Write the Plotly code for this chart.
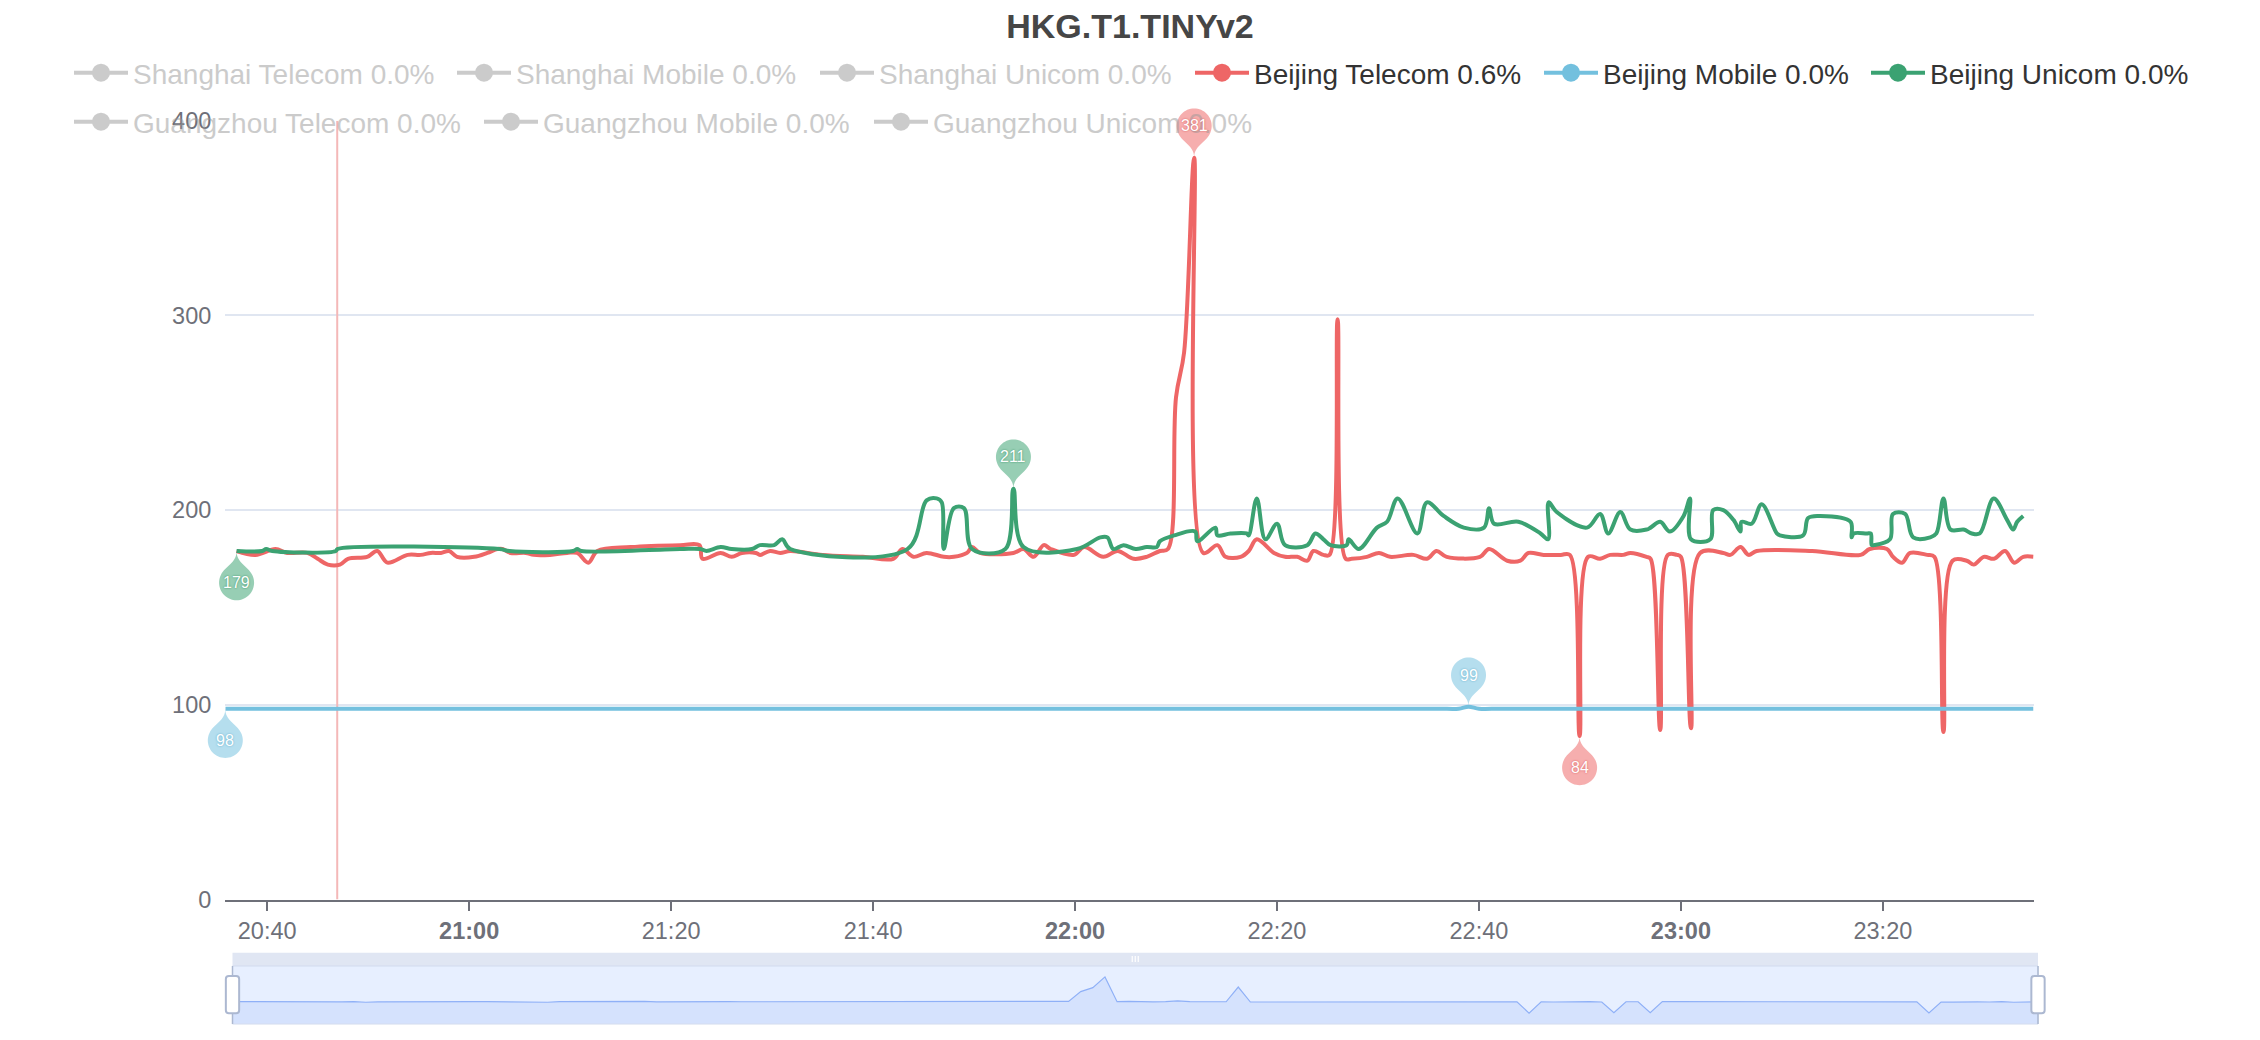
import math
from datetime import datetime, timedelta
import plotly.graph_objects as go

# ---------------- data ----------------
DAY = "2024-05-01"
chart_title = "HKG.T1.TINYv2"

series_names = ["Shanghai Telecom", "Shanghai Mobile", "Shanghai Unicom",
                "Beijing Telecom", "Beijing Mobile", "Beijing Unicom",
                "Guangzhou Telecom", "Guangzhou Mobile", "Guangzhou Unicom"]
series_loss = [0.0, 0.0, 0.0, 0.6, 0.0, 0.0, 0.0, 0.0, 0.0]
series_active = [False, False, False, True, True, True, False, False, False]
series_colors = ["#5470c6", "#91cc75", "#fac858", "#ee6666", "#73c0de",
                 "#3ba272", "#fc8452", "#9a60b4", "#ea7ccc"]

bj_telecom_times = [
    "20:36:58", "20:38:50", "20:40:49", "20:41:59", "20:43:58", "20:45:00", "20:46:00", "20:47:12",
    "20:48:00", "20:49:54", "20:50:54", "20:51:54", "20:53:54", "20:55:12", "20:56:12", "20:57:12",
    "20:58:00", "20:58:48", "21:00:30", "21:01:48", "21:02:48", "21:03:18", "21:04:06", "21:05:36",
    "21:06:24", "21:08:00", "21:09:42", "21:10:42", "21:11:48", "21:12:42", "21:16:00", "21:20:54",
    "21:22:48", "21:23:06", "21:24:54", "21:26:00", "21:27:00", "21:28:24", "21:28:48", "21:29:48",
    "21:30:48", "21:31:48", "21:35:00", "21:39:00", "21:42:00", "21:42:54", "21:44:00", "21:45:18",
    "21:47:00", "21:48:00", "21:49:18", "21:49:48", "21:50:36", "21:53:54", "21:54:54", "21:55:54",
    "21:56:54", "21:57:36", "21:59:54", "22:00:54", "22:02:48", "22:04:12", "22:05:48", "22:07:06",
    "22:08:24", "22:09:12", "22:10:00", "22:10:48", "22:11:48", "22:12:42", "22:14:06", "22:14:54",
    "22:16:24", "22:17:12", "22:18:00", "22:19:42", "22:20:48", "22:22:00", "22:23:00", "22:23:36",
    "22:24:36", "22:25:12", "22:26:00", "22:26:48", "22:27:24", "22:28:54", "22:30:06", "22:31:12",
    "22:33:30", "22:34:51", "22:35:48", "22:36:48", "22:40:06", "22:41:00", "22:42:48", "22:44:06",
    "22:44:54", "22:46:24", "22:48:06", "22:49:00", "22:49:58", "22:50:48", "22:52:00", "22:53:00",
    "22:54:18", "22:55:00", "22:56:36", "22:57:00", "22:57:57", "22:58:42", "22:59:36", "23:00:00",
    "23:01:00", "23:01:54", "23:04:12", "23:04:54", "23:05:54", "23:06:42", "23:07:30", "23:13:00",
    "23:17:48", "23:18:42", "23:20:24", "23:21:00", "23:21:54", "23:22:42", "23:24:24", "23:25:06",
    "23:26:00", "23:26:54", "23:28:18", "23:29:00", "23:30:00", "23:31:00", "23:32:06", "23:33:00",
    "23:33:54", "23:34:55"]
bj_telecom_ms = [
    179, 177, 180, 178, 178, 175, 172, 172,
    175, 176, 179, 173, 177, 177, 178, 178,
    179, 176, 176, 178, 180, 180, 178, 178,
    177, 177, 178, 178, 173, 179, 181, 182,
    182, 175, 178, 176, 178, 178, 177, 179,
    178, 179, 177, 176, 175, 180, 176, 178,
    176, 176, 178, 181, 178, 178, 180, 176,
    182, 180, 177, 181, 176, 179, 175, 176,
    179, 180, 258, 281, 381, 178, 182, 176,
    176, 179, 185, 178, 176, 176, 174, 179,
    177, 177, 298, 175, 175, 176, 178, 176,
    177, 175, 179, 176, 176, 180, 174, 174,
    178, 177, 177, 177, 84, 176, 175, 177,
    177, 178, 176, 175, 87, 177, 177, 176,
    88, 178, 178, 177, 181, 177, 179, 179,
    177, 180, 180, 176, 173, 178, 177, 176,
    86, 174, 174, 172, 176, 175, 179, 173,
    176, 176]

bj_unicom_times = [
    "20:36:58", "20:39:30", "20:39:54", "20:40:30", "20:46:48", "20:46:57", "21:03:00", "21:04:00",
    "21:10:18", "21:10:42", "21:11:06", "21:20:54", "21:22:54", "21:23:30", "21:24:54", "21:26:00",
    "21:28:00", "21:28:48", "21:30:12", "21:31:00", "21:31:48", "21:43:24", "21:45:18", "21:46:18",
    "21:46:48", "21:47:00", "21:48:00", "21:49:00", "21:49:48", "21:53:06", "21:53:54", "21:54:54",
    "22:00:12", "22:02:30", "22:03:12", "22:03:48", "22:04:48", "22:06:00", "22:07:06", "22:08:06",
    "22:08:24", "22:09:48", "22:11:54", "22:12:06", "22:13:54", "22:14:06", "22:15:24", "22:17:00",
    "22:17:12", "22:18:00", "22:18:51", "22:20:00", "22:20:48", "22:23:00", "22:23:48", "22:24:36",
    "22:25:18", "22:26:54", "22:27:06", "22:28:06", "22:29:54", "22:30:54", "22:31:57", "22:33:54",
    "22:34:51", "22:36:30", "22:38:30", "22:40:30", "22:41:00", "22:41:30", "22:43:54", "22:46:06",
    "22:46:51", "22:46:54", "22:47:42", "22:50:42", "22:52:00", "22:52:48", "22:54:00", "22:55:00",
    "22:56:36", "22:57:00", "22:57:57", "22:58:54", "23:00:16", "23:00:54", "23:01:00", "23:02:54",
    "23:03:12", "23:04:12", "23:05:12", "23:05:54", "23:06:00", "23:07:00", "23:08:00", "23:09:30",
    "23:09:48", "23:12:06", "23:12:36", "23:13:48", "23:16:48", "23:16:54", "23:17:06", "23:18:24",
    "23:18:48", "23:18:54", "23:19:06", "23:20:42", "23:21:00", "23:22:12", "23:23:00", "23:24:42",
    "23:25:18", "23:26:00", "23:26:42", "23:28:00", "23:28:48", "23:29:36", "23:30:58", "23:32:18",
    "23:32:54", "23:33:18", "23:33:54"]
bj_unicom_ms = [
    179, 179, 180, 179, 179, 180, 180, 179,
    179, 180, 179, 180, 180, 179, 181, 180,
    180, 182, 182, 185, 180, 180, 205, 206,
    204, 180, 201, 201, 180, 180, 211, 181,
    180, 186, 186, 180, 182, 180, 181, 181,
    184, 187, 189, 184, 191, 187, 188, 188,
    187, 206, 185, 193, 182, 182, 188, 185,
    182, 182, 185, 180, 191, 194, 206, 188,
    204, 197, 191, 191, 201, 193, 194, 188,
    185, 204, 199, 191, 198, 188, 199, 190,
    190, 191, 194, 189, 197, 206, 185, 185,
    200, 200, 195, 189, 194, 193, 203, 188,
    187, 187, 196, 197, 194, 186, 188, 188,
    188, 182, 182, 185, 198, 198, 186, 186,
    188, 206, 190, 190, 188, 188, 206, 195,
    190, 194, 197]

bj_mobile_times = ["20:35:51", "20:50:00", "21:10:00", "21:30:00", "21:50:00", "22:10:00", "22:30:00",
                   "22:36:00", "22:38:00", "22:38:58", "22:40:00", "22:42:00", "22:45:00", "22:50:00",
                   "23:00:00", "23:10:00", "23:20:00", "23:34:55"]
bj_mobile_ms = [98, 98, 98, 98, 98, 98, 98, 98, 98, 99, 98, 98, 98, 98, 98, 98, 98, 98]

# data shadow of the zoom slider (evenly spaced by sample index, as ECharts draws it)
slider_shadow_ms = [
    179, 178, 178, 180, 178, 178, 175, 172, 174, 176,
    178, 173, 176, 177, 178, 178, 177, 176, 177, 180,
    179, 178, 177, 177, 177, 178, 173, 179, 180, 180,
    181, 181, 181, 181, 181, 176, 177, 177, 178, 178,
    178, 178, 177, 177, 176, 176, 176, 175, 175, 179,
    175, 178, 176, 176, 179, 178, 178, 178, 180, 178,
    180, 178, 178, 179, 176, 179, 175, 176, 179,
    180, 260, 293, 381, 178,
    181, 176, 176, 178, 184, 178, 176, 174, 177, 298, 175,
    175, 175, 178, 176, 176, 177, 176, 175, 179, 175,
    176, 176, 176, 179, 177, 174, 174, 178, 177, 177,
    177, 177, 84, 176,
    175, 177, 177, 178, 175, 87, 177, 177, 88, 178,
    178, 178, 178, 179, 179, 179, 179, 179, 179, 179,
    179, 178, 178, 177, 179, 180, 179, 174, 178, 177,
    176, 86, 174,
    174, 172, 176, 175, 179, 173, 176, 176]

x_tick_times = ["20:40", "21:00", "21:20", "21:40", "22:00", "22:20", "22:40", "23:00", "23:20"]
x_tick_bold = [False, True, False, False, True, False, False, True, False]
y_tick_vals = [0, 100, 200, 300, 400]
marker_time = "20:46:56"

# ---------------- geometry / style ----------------
# the page body has an 8px margin, so the figure is drawn 8px right/down of the window origin
OFF = 8
W, H = 2260 - 2 * OFF, 1040 - 2 * OFF
PA_L, PA_R, PA_T, PA_B = 150, 2110, 80, 1024          # plot-area box, window pixels
L, R, T, B = PA_L - OFF, W - (PA_R - OFF), PA_T - OFF, H - (PA_B - OFF)
PW, PH = W - L - R, H - T - B
FONT = "Liberation Sans, Arial, Helvetica, sans-serif"

GRID_L, GRID_R, GRID_T, GRID_B = 225.3, 2033.5, 120.7, 899.5
SL_L, SL_R = 232.5, 2038.0
SL_BAND_T, SL_T, SL_B = 952.7, 966.0, 1024.0

legend_line_px = [74, 457, 820, 1195, 1544, 1871, 74, 484, 874]
legend_row_py = [73, 73, 73, 73, 73, 73, 122, 122, 122]


def fx(px):
    return (px - PA_L) / PW


def fy(py):
    return (PA_B - py) / PH


def ts(hms):
    if len(hms) == 5:
        hms += ":00"
    return f"{DAY} {hms}"


def to_dt(hms):
    return datetime.strptime(ts(hms), "%Y-%m-%d %H:%M:%S")


def legend_id(i):
    return "legend" if i == 0 else f"legend{i + 1}"


def rgba(hex_color, a):
    h = hex_color.lstrip("#")
    r, g, b = int(h[0:2], 16), int(h[2:4], 16), int(h[4:6], 16)
    return f"rgba({r},{g},{b},{a})"


fig = go.Figure()

# hidden (inactive) series: legend entries only
for i, name in enumerate(series_names):
    if not series_active[i]:
        fig.add_trace(go.Scatter(
            x=[None], y=[None], name=f"{name} {series_loss[i]:.1f}%", mode="lines+markers",
            line=dict(color="#999999", width=4),
            marker=dict(color="#999999", size=16, line=dict(color="#999999", width=2)),
            visible="legendonly", legend=legend_id(i), legendgroup=name))

active_data = {
    "Beijing Telecom": (bj_telecom_times, bj_telecom_ms),
    "Beijing Mobile": (bj_mobile_times, bj_mobile_ms),
    "Beijing Unicom": (bj_unicom_times, bj_unicom_ms),
}

for i, name in enumerate(series_names):
    if series_active[i]:
        times, vals = active_data[name]
        fig.add_trace(go.Scatter(
            x=[ts(t) for t in times], y=vals, mode="lines", name=name,
            line=dict(color=series_colors[i], width=4, shape="spline", smoothing=1),
            showlegend=False, legendgroup=name, hoverinfo="x+y"))

for i, name in enumerate(series_names):
    if series_active[i]:
        fig.add_trace(go.Scatter(
            x=[None], y=[None], mode="lines+markers", name=f"{name} {series_loss[i]:.1f}%",
            line=dict(color=series_colors[i], width=4),
            marker=dict(color=series_colors[i], size=16, line=dict(color=series_colors[i], width=2)),
            legend=legend_id(i), legendgroup=name))

# slider data shadow
n_sh = len(slider_shadow_ms)
fig.add_trace(go.Scatter(
    x=list(range(n_sh)), y=slider_shadow_ms, xaxis="x2", yaxis="y2", mode="lines",
    line=dict(color="#8FB0F7", width=1.2), fill="tozeroy",
    fillcolor="rgba(143,176,247,0.2)", showlegend=False, hoverinfo="skip"))

# overlay axes for the pins (same scale as the main axes, larger unclipped area)
fig.add_trace(go.Scatter(x=[], y=[], xaxis="x3", yaxis="y3", showlegend=False, hoverinfo="skip"))

all_times = bj_telecom_times + bj_unicom_times + bj_mobile_times
t0 = min(to_dt(t) for t in all_times)
t1 = max(to_dt(t) for t in all_times)
span = (t1 - t0).total_seconds()
sx = (GRID_R - GRID_L) / span
x3_range = [(t0 - timedelta(seconds=(GRID_L - PA_L) / sx)).strftime("%Y-%m-%d %H:%M:%S.%f"),
            (t1 + timedelta(seconds=(PA_R - GRID_R) / sx)).strftime("%Y-%m-%d %H:%M:%S.%f")]
y_max = max(y_tick_vals)
sy = (GRID_B - GRID_T) / y_max
y3_range = [0 - (PA_B - GRID_B) / sy, y_max + (GRID_T - PA_T) / sy]

# ---------------- pins (markPoint max / min) ----------------
PIN_R, PIN_H = 17.5, 57.0
pin_dy = PIN_R * PIN_R / (PIN_H - PIN_R)
PIN_D = PIN_H - PIN_R - pin_dy


def pin_path(sign):
    r = PIN_R
    a = math.asin(pin_dy / r)
    dx = math.cos(a) * r
    tx, ty = math.sin(a), math.cos(a)
    c1, c2 = 0.6 * r, 0.7 * r
    pts = []
    n = 40
    for k in range(n + 1):
        th = math.pi + a - (math.pi + 2 * a) * k / n
        pts.append((r * math.cos(th), PIN_D + r * math.sin(th)))
    s = sign
    p = "M{:.2f},{:.2f}".format(pts[0][0], s * pts[0][1])
    for (x, y) in pts[1:]:
        p += " L{:.2f},{:.2f}".format(x, s * y)
    base = PIN_D - pin_dy
    p += " C{:.2f},{:.2f} {:.2f},{:.2f} 0,0".format(dx - tx * c1, s * (base - ty * c1), 0, s * c2)
    p += " C{:.2f},{:.2f} {:.2f},{:.2f} {:.2f},{:.2f} Z".format(
        0, s * c2, -dx + tx * c1, s * (base - ty * c1), -dx, s * base)
    return p


shapes = []
annotations = []

# slider frame
shapes.append(dict(type="rect", xref="paper", yref="paper", x0=fx(SL_L), x1=fx(SL_R),
                   y0=fy(SL_T), y1=fy(SL_BAND_T), fillcolor="#E0E6F3", line=dict(width=0), layer="below"))
shapes.append(dict(type="rect", xref="paper", yref="paper", x0=fx(SL_L), x1=fx(SL_R),
                   y0=fy(SL_B), y1=fy(SL_T), fillcolor="#E7EFFF",
                   line=dict(color="#D2DBEE", width=1), layer="below"))
mid = (SL_L + SL_R) / 2
for off in (-3, 0, 3):
    shapes.append(dict(type="line", xref="paper", yref="paper", x0=fx(mid + off), x1=fx(mid + off),
                       y0=fy(962), y1=fy(956), line=dict(color="#FFFFFF", width=1.2), layer="above"))


def rounded_rect(cx, cy, w, h, r):
    x0, x1, y0, y1 = cx - w / 2, cx + w / 2, cy - h / 2, cy + h / 2
    P = lambda x, y: "{:.6f},{:.6f}".format(fx(x), fy(y))
    return ("M" + P(x0 + r, y0) + " L" + P(x1 - r, y0) + " Q" + P(x1, y0) + " " + P(x1, y0 + r) +
            " L" + P(x1, y1 - r) + " Q" + P(x1, y1) + " " + P(x1 - r, y1) +
            " L" + P(x0 + r, y1) + " Q" + P(x0, y1) + " " + P(x0, y1 - r) +
            " L" + P(x0, y0 + r) + " Q" + P(x0, y0) + " " + P(x0 + r, y0) + " Z")


for hx in (SL_L, SL_R):
    shapes.append(dict(type="line", xref="paper", yref="paper", x0=fx(hx), x1=fx(hx),
                       y0=fy(SL_B), y1=fy(SL_T), line=dict(color="#ACB8D1", width=1.5), layer="above"))
    shapes.append(dict(type="path", xref="paper", yref="paper", path=rounded_rect(hx, 994.7, 13.3, 37.3, 3),
                       fillcolor="#FFFFFF", line=dict(color="#ACB8D1", width=2), layer="above"))

# event marker line
shapes.append(dict(type="line", xref="x", yref="y", x0=ts(marker_time), x1=ts(marker_time),
                   y0=0, y1=y_max, line=dict(color="#F4B8B8", width=2), layer="between"))

label_shadow = {"#ee6666": "#d65252", "#73c0de": "#5aa9c8", "#3ba272": "#2e8a5e"}
for i, name in enumerate(series_names):
    if not series_active[i]:
        continue
    times, vals = active_data[name]
    color = series_colors[i]
    i_max = vals.index(max(vals))
    i_min = vals.index(min(vals))
    for idx, sign in ((i_max, 1), (i_min, -1)):
        shapes.append(dict(type="path", xref="x3", yref="y3", xsizemode="pixel", ysizemode="pixel",
                           xanchor=ts(times[idx]), yanchor=vals[idx], path=pin_path(sign),
                           fillcolor=rgba(color, 0.53), line=dict(width=0), layer="above"))
        annotations.append(dict(x=ts(times[idx]), y=vals[idx], xref="x3", yref="y3",
                                text=str(vals[idx]), showarrow=False, yshift=sign * PIN_D,
                                xanchor="center", yanchor="middle",
                                font=dict(family=FONT, size=16, color="#FFFFFF",
                                          shadow=f"0px 0px 2px {label_shadow[color]}")))

layout = dict(
    width=W, height=H,
    margin=dict(l=L, r=R, t=T, b=B, autoexpand=False),
    paper_bgcolor="#FFFFFF", plot_bgcolor="rgba(0,0,0,0)",
    title=dict(text=chart_title, x=0.5, xref="container", xanchor="center",
               y=1.0 - 6.0 / H, yref="container", yanchor="top", pad=dict(t=0, b=0, l=0, r=0),
               font=dict(family=FONT, size=34, color="#464646", weight="bold")),
    xaxis=dict(type="date", domain=[fx(GRID_L), fx(GRID_R)], anchor="y",
               range=[t0.strftime("%Y-%m-%d %H:%M:%S"), t1.strftime("%Y-%m-%d %H:%M:%S")],
               tickvals=[ts(t) for t in x_tick_times],
               ticktext=[f"<b>{t}</b>" if b else t for t, b in zip(x_tick_times, x_tick_bold)],
               tickfont=dict(family=FONT, size=23.5, color="#6E7079"),
               showline=True, linecolor="#6E7079", linewidth=2,
               ticks="outside", ticklen=9, tickwidth=2, tickcolor="#6E7079",
               ticklabelstandoff=0, showgrid=False, zeroline=False, fixedrange=True),
    yaxis=dict(domain=[fy(GRID_B), fy(GRID_T)], anchor="x", range=[0, y_max],
               tickvals=y_tick_vals, tickfont=dict(family=FONT, size=23.5, color="#6E7079"),
               showgrid=True, gridcolor="#E0E6F1", gridwidth=2, zeroline=False,
               showline=False, ticks="", ticklabelstandoff=13, fixedrange=True),
    xaxis2=dict(domain=[fx(SL_L), fx(SL_R)], anchor="y2", range=[0, n_sh - 1], visible=False,
                fixedrange=True),
    yaxis2=dict(domain=[fy(SL_B), fy(SL_T)], anchor="x2",
                range=[min(slider_shadow_ms) - 0.3 * (max(slider_shadow_ms) - min(slider_shadow_ms)),
                       max(slider_shadow_ms) + 0.3 * (max(slider_shadow_ms) - min(slider_shadow_ms))],
                visible=False, fixedrange=True),
    xaxis3=dict(type="date", domain=[0, 1], anchor="y3", range=x3_range, visible=False, fixedrange=True),
    yaxis3=dict(domain=[0, 1], anchor="x3", range=y3_range, visible=False, fixedrange=True),
    shapes=shapes, annotations=annotations,
    hovermode="x",
)

for i, name in enumerate(series_names):
    layout[legend_id(i)] = dict(
        x=fx(legend_line_px[i] - 5), y=fy(legend_row_py[i]), xanchor="left", yanchor="middle",
        orientation="h", bgcolor="rgba(0,0,0,0)", borderwidth=0, itemwidth=54,
        font=dict(family=FONT, size=28, color="#333333" if series_active[i] else "#999999"))

fig.update_layout(**layout)
fig.write_html("out.html")
